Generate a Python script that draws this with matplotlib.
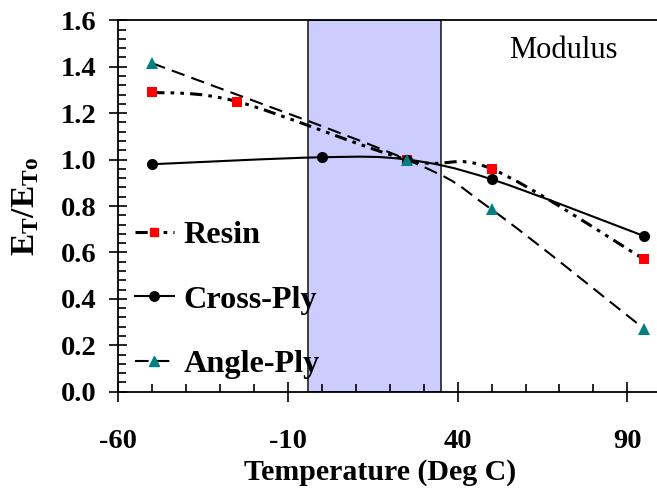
import numpy as np
import matplotlib
matplotlib.use('Agg')
import matplotlib.pyplot as plt
from matplotlib.path import Path
from matplotlib.patches import PathPatch, Rectangle
from matplotlib.lines import Line2D
from matplotlib.ticker import MultipleLocator, FormatStrFormatter

plt.rcParams['font.family'] = ['Liberation Serif', 'DejaVu Serif']
plt.rcParams['mathtext.fontset'] = 'custom'
plt.rcParams['mathtext.rm'] = 'Liberation Serif'
plt.rcParams['mathtext.bf'] = 'Liberation Serif:bold'
plt.rcParams['axes.unicode_minus'] = False

# data
resin_x = [-50, -25, 25, 50, 95]
resin_y = [1.29, 1.25, 1.00, 0.96, 0.57]
cross_x = [-50, 0, 25, 50, 95]
cross_y = [0.98, 1.01, 1.00, 0.915, 0.67]
angle_x = [-50, 25, 50, 95]
angle_y = [1.415, 1.00, 0.785, 0.27]
band = (-4, 35)
x_ticks = [-60, -10, 40, 90]


def smooth_path(xs, ys):
    # Excel style smoothed line: cubic bezier through the points
    pts = np.column_stack([xs, ys]).astype(float)
    n = len(pts)
    verts = [pts[0]]
    codes = [Path.MOVETO]
    for i in range(n - 1):
        p0 = pts[i - 1] if i > 0 else pts[i]
        p1 = pts[i]
        p2 = pts[i + 1]
        p3 = pts[i + 2] if i + 2 < n else pts[i + 1]
        c1 = p1 + (p2 - p0) / 6.0
        c2 = p2 - (p3 - p1) / 6.0
        verts += [c1, c2, p2]
        codes += [Path.CURVE4] * 3
    return Path(verts, codes)


fig = plt.figure(figsize=(6.57, 4.93), dpi=100)
ax = fig.add_axes([118.3 / 657, 0.2055, 543.0 / 657, 0.7533])
ax.set_xlim(-60, 100)
ax.set_ylim(0, 1.6)

ax.add_patch(Rectangle((band[0], 0), band[1] - band[0], 1.6, facecolor='#CCCCFF',
                       edgecolor='#222222', linewidth=1.2, zorder=1))

styles = [
    (resin_x, resin_y, (0, (4, 2, 1.2, 2, 1.2, 2)), 2.2, 's', '#FF0000', 7.5, 'Resin'),
    (cross_x, cross_y, '-', 1.5, 'o', 'black', 8, 'Cross-Ply'),
    (angle_x, angle_y, (0, (6.5, 3.5)), 1.5, '^', '#008080', 8.5, 'Angle-Ply'),
]
handles = []
for xs, ys, ls, lw, mk, mc, ms, lab in styles:
    ax.add_patch(PathPatch(smooth_path(xs, ys), fill=False, edgecolor='black',
                           linewidth=lw, linestyle=ls, zorder=3))
    ax.plot(xs, ys, linestyle='none', marker=mk, color=mc, markersize=ms,
            markeredgewidth=0, zorder=4)
    handles.append(Line2D([], [], color='black', linestyle=ls, linewidth=lw,
                          marker=mk, markerfacecolor=mc, markeredgecolor=mc,
                          markersize=ms * 0.85, label=lab))

ax.legend(handles=handles, loc='upper left', bbox_to_anchor=(0.031, 0.46),
          frameon=False, borderpad=0, borderaxespad=0, handlelength=1.2,
          handletextpad=0.3, labelspacing=1.08,
          prop={'family': 'Liberation Serif', 'weight': 'bold', 'size': 23.2})

ax.text(71, 1.47, 'Modulus', ha='center', va='center', fontsize=22)

ax.set_xticks(x_ticks)
ax.xaxis.set_minor_locator(MultipleLocator(10))
ax.yaxis.set_major_locator(MultipleLocator(0.2))
ax.yaxis.set_minor_locator(MultipleLocator(0.04))
ax.yaxis.set_major_formatter(FormatStrFormatter('%.1f'))

ax.tick_params(axis='x', which='major', direction='inout', length=14.4, width=1.2,
               pad=20, labelsize=20.5)
ax.tick_params(axis='y', which='major', direction='inout', length=12.5, width=1.2,
               pad=9.5, labelsize=20.5)
ax.tick_params(which='minor', direction='in', length=5.8, width=1.2)
for lab in ax.get_xticklabels() + ax.get_yticklabels():
    lab.set_fontweight('bold')

for s in ['left', 'bottom', 'top']:
    ax.spines[s].set_linewidth(1.3)
ax.spines['right'].set_visible(False)

ax.set_xlabel('Temperature (Deg C)', fontsize=21.5, fontweight='bold')
ax.xaxis.set_label_coords(0.482, -0.18)
ax.set_ylabel(r'$\mathbf{E_T/E_{To}}$', fontsize=24)
ax.yaxis.set_label_coords(-0.142, 0.5)

fig.savefig('out.png', dpi=100)
